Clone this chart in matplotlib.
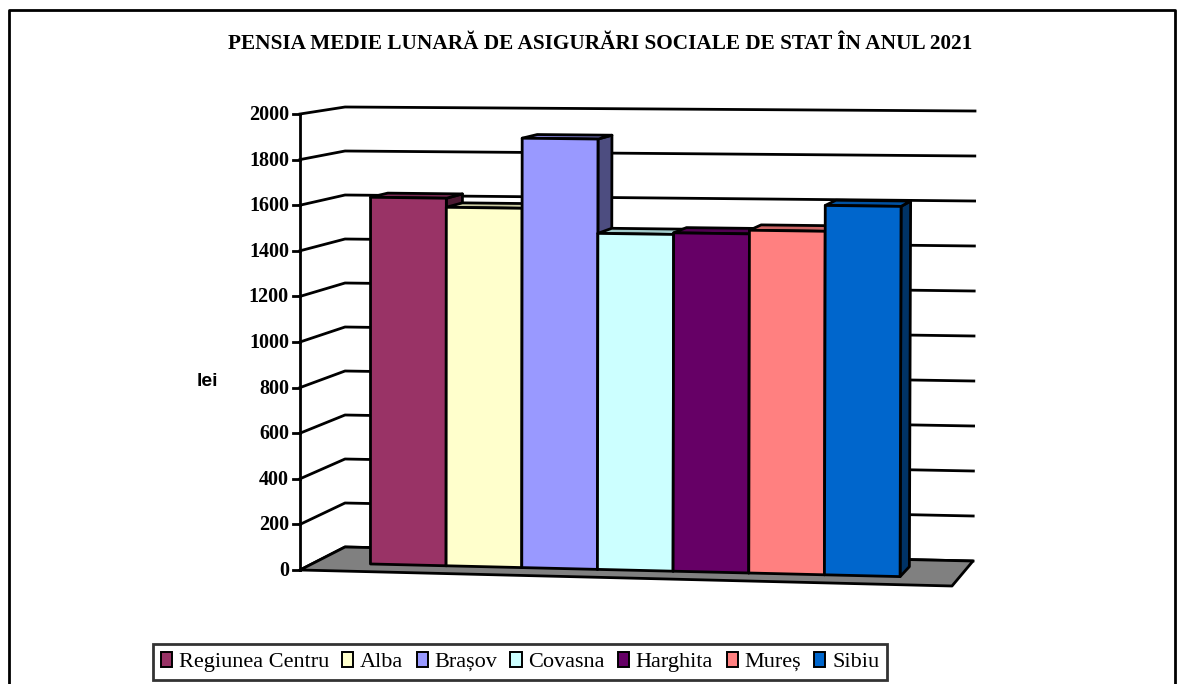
import matplotlib.pyplot as plt
import matplotlib.colors as mcolors
from matplotlib.patches import Polygon, Patch

categories = ["Regiunea Centru", "Alba", "Brașov", "Covasna", "Harghita", "Mureș", "Sibiu"]
pensions = [1624, 1584, 1893, 1478, 1485, 1501, 1614]
colors = ["#993366", "#FFFFCC", "#9999FF", "#CCFFFF", "#660066", "#FF8080", "#0066CC"]
y_ticks = list(range(0, 2001, 200))
y_max = 2000
title = "PENSIA MEDIE LUNARĂ DE ASIGURĂRI SOCIALE DE STAT ÎN ANUL 2021"

# pixel positions of the chart box corners, key is (across, up, depth)
CORNERS = {
    (0, 0, 0): (300, 570), (1, 0, 0): (952, 586),
    (0, 1, 0): (300, 114), (1, 1, 0): (953, 122),
    (0, 0, 1): (345, 547), (1, 0, 1): (973, 561),
    (0, 1, 1): (345, 107), (1, 1, 1): (975, 111),
}
U0, U1 = 0.087, 0.909   # where the bars start / end across the floor
W0, W1 = 0.32, 0.72     # bar front / back depth
LW = 2.0


def proj(u, v, w):
    x = y = 0.0
    for (cu, cv, cw), (px, py) in CORNERS.items():
        f = (u if cu else 1 - u) * (v if cv else 1 - v) * (w if cw else 1 - w)
        x += f * px
        y += f * py
    return x, y


def shade(c, k):
    r, g, b = mcolors.to_rgb(c)
    return (r * k, g * k, b * k)


def face(ax, pts, fc, z):
    ax.add_patch(Polygon([proj(*p) for p in pts], closed=True, facecolor=fc,
                         edgecolor="black", linewidth=LW, joinstyle="round", zorder=z))


fig = plt.figure(figsize=(11.81, 6.84), dpi=100)
ax = fig.add_axes([0, 0, 1, 1])
ax.set_xlim(0, 1181)
ax.set_ylim(684, 0)
ax.axis("off")

# outer frame
ax.plot([9, 9, 1175, 1175], [690, 10, 10, 690], color="black", lw=LW, zorder=1)

# gridlines on side and back walls + tick marks
for t in y_ticks:
    v = t / y_max
    pts = [proj(0, v, 0), proj(0, v, 1), proj(1, v, 1)]
    ax.plot([p[0] for p in pts], [p[1] for p in pts], color="black", lw=LW, zorder=2,
            solid_joinstyle="round")
    x0, y0 = proj(0, v, 0)
    ax.plot([x0 - 7, x0], [y0, y0], color="black", lw=LW, zorder=2)
    ax.text(x0 - 11, y0 + 1, str(t), ha="right", va="center", fontsize=14.5,
            fontweight="bold", family="Liberation Serif")

# vertical axis
a, b = proj(0, 0, 0), proj(0, 1, 0)
ax.plot([a[0], b[0]], [a[1], b[1]], color="black", lw=LW, zorder=3)

# floor
face(ax, [(0, 0, 0), (1, 0, 0), (1, 0, 1), (0, 0, 1)], "#808080", 3)

# bars, left to right
step = (U1 - U0) / len(pensions)
for i, (val, col) in enumerate(zip(pensions, colors)):
    ua, ub = U0 + i * step, U0 + (i + 1) * step
    h = val / y_max
    z = 4 + i
    face(ax, [(ub, 0, W0), (ub, 0, W1), (ub, h, W1), (ub, h, W0)], shade(col, 0.5), z)
    face(ax, [(ua, h, W0), (ub, h, W0), (ub, h, W1), (ua, h, W1)], shade(col, 0.8), z)
    face(ax, [(ua, 0, W0), (ub, 0, W0), (ub, h, W0), (ua, h, W0)], col, z)

ax.text(600, 44, title, ha="center", va="center", fontsize=15.3, fontweight="bold",
        family="Liberation Serif")
ax.text(207, 382, "lei", ha="center", va="center", fontsize=14, fontweight="bold",
        family="Liberation Sans")

handles = [Patch(facecolor=c, edgecolor="black", linewidth=1.4) for c in colors]
leg = ax.legend(handles, categories, loc="center", bbox_to_anchor=(520 / 1181, 1 - 662 / 684),
                ncol=len(categories), frameon=True, fancybox=False, edgecolor="black",
                prop={"family": "Liberation Serif", "size": 16}, handlelength=0.5,
                handleheight=0.65, handletextpad=0.3, columnspacing=0.6, borderpad=0.35,
                borderaxespad=0)
leg.get_frame().set_linewidth(LW)

fig.savefig("out.png", dpi=100)
